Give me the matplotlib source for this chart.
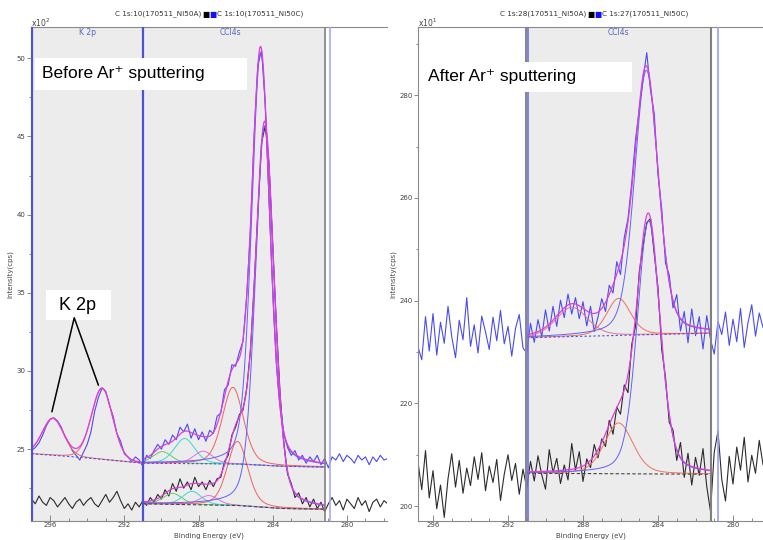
import numpy as np
import matplotlib.pyplot as plt
from matplotlib.patches import Rectangle
from matplotlib.ticker import MultipleLocator

plt.rcParams['font.family'] = ['DejaVu Sans']

# Binding energy grids of the two acquisitions (eV, 0.2 eV step)
be_before = np.linspace(297.0, 277.8, 97)
be_after = np.linspace(296.8, 278.4, 93)

# Raw spectra before Ar+ sputtering (x10^2 cps)
before_ni50c = [24.9, 25.1, 25.4, 25.9, 26.5, 26.9, 27.0, 26.8, 26.4, 25.8,
                25.4, 24.9, 24.6, 24.3, 24.8, 25.3, 26.1, 27.4, 28.3, 28.9,
                28.7, 27.8, 27.1, 26.0, 25.5, 24.7, 24.5, 24.2, 24.5, 24.3,
                23.9, 24.6, 24.4, 24.9, 25.3, 25.0, 25.6, 25.3, 25.9, 25.6,
                26.4, 26.1, 26.6, 25.7, 26.3, 25.6, 26.1, 25.5, 26.2, 26.0,
                27.1, 27.3, 28.8, 29.1, 30.4, 30.3, 31.2, 31.9, 34.9, 39.0,
                45.2, 49.6, 50.5, 47.0, 41.0, 35.3, 30.4, 27.9, 26.0, 25.1,
                24.6, 24.9, 24.3, 24.6, 24.1, 24.5, 24.2, 24.6, 24.0, 24.4,
                23.8, 24.5, 24.3, 24.7, 24.2, 24.6, 24.4, 24.1, 24.6, 24.3,
                24.5, 24.0, 24.5, 24.2, 24.6, 24.3, 24.4]
before_ni50a = [21.8, 21.5, 22.0, 21.6, 21.4, 21.9, 21.7, 21.3, 21.6, 21.9,
                21.5, 21.2, 21.6, 21.8, 21.4, 21.7, 21.9, 21.5, 21.3, 21.7,
                22.1, 21.6, 21.9, 22.3, 21.7, 21.2, 21.5, 21.1, 21.6, 21.3,
                21.7, 21.4, 21.9, 21.6, 22.1, 21.8, 22.4, 22.0, 22.8, 22.3,
                23.1, 22.5, 22.9, 22.4, 23.2, 22.6, 22.9, 22.4, 23.0, 22.6,
                23.1, 23.2, 24.2, 24.6, 25.9, 26.4, 27.2, 27.5, 28.9, 31.3,
                35.5, 40.2, 44.6, 45.7, 43.2, 38.0, 32.9, 28.5, 25.4, 23.4,
                22.8, 21.9, 22.2, 21.5, 21.9, 21.3, 21.8, 21.2, 21.6, 21.0,
                21.5, 21.9, 21.4, 21.7, 21.1, 21.8, 21.5, 21.2, 21.9, 21.4,
                21.7, 21.0, 21.6, 21.8, 21.3, 21.7, 21.5]

# Raw spectra after Ar+ sputtering (x10^1 cps)
after_ni50c = [231.0, 228.5, 236.9, 230.2, 237.5, 229.4, 235.8, 231.7, 238.9, 233.0,
               228.9, 236.2, 232.4, 240.6, 231.1, 235.3, 229.8, 237.0, 233.9, 230.5,
               236.8, 232.2, 238.1, 231.6, 235.0, 229.2, 234.6, 237.3, 230.8, 229.8,
               235.6, 231.9, 236.3, 233.0, 238.2, 234.1, 238.9, 235.0, 240.1, 236.7,
               241.3, 237.4, 240.6, 236.5, 239.8, 235.1, 238.9, 234.0, 236.8, 240.4,
               237.9, 243.0, 241.5, 247.6, 245.1, 252.3, 256.0, 263.0, 271.4, 277.2,
               283.1, 288.3, 281.0, 276.4, 264.5, 257.8, 247.3, 245.0, 238.6, 241.2,
               234.1, 237.9, 231.8, 238.4, 233.2, 236.9, 230.6, 237.1, 232.5, 229.6,
               236.0, 233.4, 237.8, 231.3, 236.4, 232.0, 238.5, 230.9, 235.7, 239.2,
               233.1, 237.6, 234.8]
after_ni50a = [208.5, 203.2, 210.8, 201.6, 206.9, 199.5, 204.1, 197.8, 205.3, 210.2,
               203.7, 208.9, 202.5, 207.4, 204.0, 209.6, 205.2, 210.4, 203.0, 207.8,
               204.6, 209.1, 201.1, 206.2, 210.0, 205.0, 208.3, 202.3, 207.2, 203.5,
               208.7, 204.9, 209.8, 206.1, 203.3, 211.0, 206.5, 209.3, 204.4, 208.0,
               205.1, 212.2, 207.0, 210.6, 204.8, 209.2, 207.5, 212.0, 209.4, 213.1,
               211.6, 216.7, 214.0, 219.3, 217.9, 223.6, 222.1, 231.5, 235.0, 245.6,
               250.7, 255.2, 256.0, 249.1, 242.6, 230.4, 225.1, 216.3, 214.8, 208.9,
               212.4, 205.6, 210.3, 204.1, 209.5, 206.0, 211.2, 203.8, 199.0, 210.5,
               214.6, 205.2, 201.0, 209.7, 204.3, 211.5, 207.0, 213.4, 204.7, 209.9,
               206.4, 212.8, 208.1]

# Fit components: position (eV), height above background, FWHM (eV)
k2p_pos = [295.85, 293.2]
k2p_height = [2.35, 4.55]
k2p_fwhm = [1.35, 1.35]

before_c_pos = [289.95, 288.75, 287.75, 286.15, 284.65]
before_c_height = [0.75, 1.6, 0.8, 4.9, 26.4]
before_c_fwhm = [1.2, 1.3, 1.2, 1.35, 1.15]
before_a_pos = [289.4, 288.35, 287.45, 285.9, 284.43]
before_a_height = [0.7, 0.85, 0.6, 4.1, 24.4]
before_a_fwhm = [1.2, 1.2, 1.2, 1.3, 1.2]
before_colors = ['#5fcf5f', '#3fd6cf', '#e070e0', '#f26060', '#6060ff']

after_c_pos = [288.6, 286.1, 284.62]
after_c_height = [5.7, 7.2, 51.5]
after_c_fwhm = [2.0, 1.5, 1.5]
after_c_colors = ['#f07090', '#f2705a', '#6060ff']
after_a_pos = [286.1, 284.5]
after_a_height = [9.9, 49.3]
after_a_fwhm = [1.8, 1.45]
after_a_colors = ['#f2705a', '#6060ff']

# Backgrounds (energy, value) pairs
bg_k2p_e = [297.0, 294.6, 291.0]
bg_k2p_v = [24.7, 24.5, 24.1]
bg_before_c_e = [291.0, 286.0, 283.5, 281.0]
bg_before_c_v = [24.1, 24.05, 23.9, 23.85]
bg_before_a_e = [291.0, 286.0, 283.5, 281.0]
bg_before_a_v = [21.5, 21.4, 21.2, 21.15]
bg_after_c_e = [291.0, 281.0]
bg_after_c_v = [232.8, 233.7]
bg_after_a_e = [291.0, 281.0]
bg_after_a_v = [206.4, 206.2]

# K 2p annotation line ends (eV, x10^2 cps)
k2p_arrow_e = [295.9, 294.7, 293.4]
k2p_arrow_v = [27.4, 33.4, 29.1]

BLUE = '#4b4bef'
BLACK = '#2b2b2b'
MAGENTA = '#e03ce0'


def gl(e, pos, h, w, m=0.3):
    # Gaussian-Lorentzian mix, as used by the fitting program
    d = 4 * (e - pos) ** 2 / w ** 2
    return h * ((1 - m) * np.exp(-np.log(2) * d) + m / (1 + d))


def draw_fit(ax, e_hi, e_lo, bg_e, bg_v, pos, hts, wid, colors, bg_color, bg_ls, mix=0.3):
    e = np.linspace(e_hi, e_lo, 500)
    bg = np.interp(e, bg_e[::-1], bg_v[::-1])
    total = bg.copy()
    for p, h, w, c in zip(pos, hts, wid, colors):
        comp = gl(e, p, h, w, mix)
        ax.plot(e, bg + comp, color=c, lw=0.7, zorder=3)
        total += comp
    ax.plot(e, total, color=MAGENTA, lw=0.9, zorder=4)
    ax.plot(e, bg, color=bg_color, lw=0.8, ls=bg_ls, zorder=4)


def style_axis(ax, ymajor, yminor):
    ax.xaxis.set_major_locator(MultipleLocator(4))
    ax.xaxis.set_minor_locator(MultipleLocator(1))
    ax.yaxis.set_major_locator(MultipleLocator(ymajor))
    ax.yaxis.set_minor_locator(MultipleLocator(yminor))
    ax.tick_params(axis='x', which='major', direction='in', length=4, width=0.6,
                   labelsize=5, pad=0.8, colors='#777', labelcolor='#444')
    ax.tick_params(axis='x', which='minor', direction='in', length=2, width=0.6, colors='#777')
    ax.tick_params(axis='y', which='major', direction='out', length=3, width=0.6,
                   labelsize=5, pad=1, colors='#777', labelcolor='#444')
    ax.tick_params(axis='y', which='minor', direction='out', length=1.5, width=0.6, colors='#777')
    ax.spines['right'].set_visible(False)
    for s in ['top', 'left', 'bottom']:
        ax.spines[s].set_color('#8a8a8a')
        ax.spines[s].set_linewidth(0.8)
    ax.set_xlabel('Binding Energy (eV)', fontsize=5, color='#444', va='center')
    ax.xaxis.set_label_coords(0.5, -0.0295)
    ax.set_ylabel('Intensity(cps)', fontsize=5, color='#444', labelpad=2)


fig = plt.figure(figsize=(7.63, 5.40), dpi=100)
ax1 = fig.add_axes([31 / 763, 19 / 540, 356 / 763, 494 / 540])
ax2 = fig.add_axes([418 / 763, 19 / 540, 345 / 763, 494 / 540])

# ---- before sputtering ----
ax1.set_xlim(297.03, 277.84)
ax1.set_ylim(20.4, 52.0)
ax1.axvspan(297.03, 281.19, color='#ececec', lw=0, zorder=0)
ax1.axvline(297.0, color='#5050d8', lw=1.6, zorder=5)
ax1.axvline(291.0, color='#5050d8', lw=1.6, zorder=5)
ax1.axvline(281.19, color='#808080', lw=1.2, zorder=5)
ax1.axvline(280.92, color='#a8a8ff', lw=1.2, zorder=5)

ax1.plot(be_before, before_ni50a, color=BLACK, lw=0.8, zorder=2)
ax1.plot(be_before, before_ni50c, color=BLUE, lw=0.8, zorder=2)
draw_fit(ax1, 297.0, 291.0, bg_k2p_e, bg_k2p_v, k2p_pos, k2p_height, k2p_fwhm,
         ['#f06a6a', '#f06a6a'], BLUE, (0, (2, 2)), mix=0.1)
draw_fit(ax1, 291.0, 281.2, bg_before_c_e, bg_before_c_v, before_c_pos, before_c_height,
         before_c_fwhm, before_colors, BLUE, (0, (2, 2)))
draw_fit(ax1, 291.0, 281.2, bg_before_a_e, bg_before_a_v, before_a_pos, before_a_height,
         before_a_fwhm, before_colors, '#444444', (0, (3, 2)))

ax1.text(294.0, 0.988, 'K 2p', transform=ax1.get_xaxis_transform(), fontsize=5.5,
         color='#5066c0', ha='center', va='center')
ax1.text(286.3, 0.988, 'CCl4s', transform=ax1.get_xaxis_transform(), fontsize=5.5,
         color='#5066c0', ha='center', va='center')
style_axis(ax1, 5, 2.5)

ax1.add_patch(Rectangle((0.011, 0.872), 0.596, 0.065, transform=ax1.transAxes,
                        facecolor='white', edgecolor='none', zorder=6))
ax1.text(0.031, 0.905, 'Before Ar\u207a sputtering', transform=ax1.transAxes,
         fontsize=12.5, family=['Liberation Sans', 'DejaVu Sans'], va='center', zorder=7)
ax1.add_patch(Rectangle((0.042, 0.407), 0.183, 0.061, transform=ax1.transAxes,
                        facecolor='white', edgecolor='none', zorder=6))
ax1.text(0.131, 0.437, 'K 2p', transform=ax1.transAxes, fontsize=13,
         family=['Liberation Sans', 'DejaVu Sans'], ha='center', va='center', zorder=7)
ax1.plot(k2p_arrow_e, k2p_arrow_v, color='black', lw=1.1, zorder=7)

# ---- after sputtering ----
ax2.set_xlim(296.8, 278.4)
ax2.set_ylim(197.1, 293.3)
ax2.axvspan(291.04, 281.17, color='#ececec', lw=0, zorder=0)
ax2.axvline(291.04, color='#8a8a8a', lw=1.5, zorder=5)
ax2.axvline(290.93, color='#7070e8', lw=1.2, zorder=5)
ax2.axvline(281.17, color='#808080', lw=1.5, zorder=5)
ax2.axvline(280.8, color='#9a9aff', lw=1.2, zorder=5)

ax2.plot(be_after, after_ni50a, color=BLACK, lw=0.8, zorder=2)
ax2.plot(be_after, after_ni50c, color=BLUE, lw=0.8, zorder=2)
draw_fit(ax2, 291.0, 281.2, bg_after_c_e, bg_after_c_v, after_c_pos, after_c_height,
         after_c_fwhm, after_c_colors, BLUE, (0, (2, 2)))
draw_fit(ax2, 291.0, 281.2, bg_after_a_e, bg_after_a_v, after_a_pos, after_a_height,
         after_a_fwhm, after_a_colors, '#444444', (0, (3, 2)))

ax2.text(286.1, 0.988, 'CCl4s', transform=ax2.get_xaxis_transform(), fontsize=5.5,
         color='#5066c0', ha='center', va='center')
style_axis(ax2, 20, 10)

ax2.add_patch(Rectangle((0.012, 0.868), 0.608, 0.061, transform=ax2.transAxes,
                        facecolor='white', edgecolor='none', zorder=6))
ax2.text(0.029, 0.899, 'After Ar\u207a sputtering', transform=ax2.transAxes,
         fontsize=12.5, family=['Liberation Sans', 'DejaVu Sans'], va='center', zorder=7)

# headers above each panel
for x_split, left_txt, right_txt in [(201, 'C 1s:10(170511_NI50A)', 'C 1s:10(170511_NI50C)'),
                                     (586, 'C 1s:28(170511_NI50A)', 'C 1s:27(170511_NI50C)')]:
    y = 1 - 14 / 540
    fig.text(x_split / 763, y, left_txt, fontsize=5.2, color='#333', ha='right', va='center')
    fig.text((x_split + 1.5) / 763, y, '\u25a0', fontsize=5.5, color='black', ha='left', va='center')
    fig.text((x_split + 8) / 763, y, '\u25a0', fontsize=5.5, color='#1010ff', ha='left', va='center')
    fig.text((x_split + 16) / 763, y, right_txt, fontsize=5.2, color='#333', ha='left', va='center')

fig.text(31 / 763, 1 - 23 / 540, 'x10$^2$', fontsize=5.5, color='#444', ha='left', va='center')
fig.text(418 / 763, 1 - 23 / 540, 'x10$^1$', fontsize=5.5, color='#444', ha='left', va='center')

fig.savefig('out.png', dpi=100)
